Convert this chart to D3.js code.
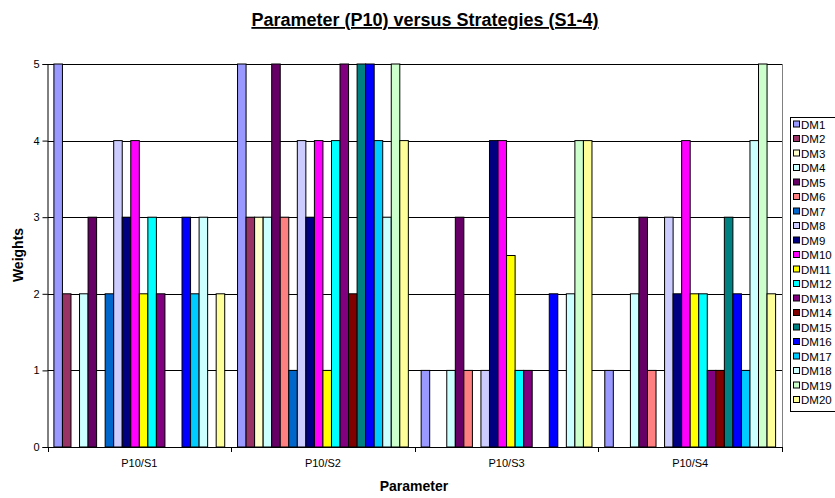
<!DOCTYPE html>
<html><head><meta charset="utf-8">
<script src="https://cdn.jsdelivr.net/npm/d3@7"></script>
<style>body{margin:0;background:#fff;}svg{display:block;font-family:Arial,"Liberation Sans",sans-serif;}</style>
</head><body>
<script>
const categories = ["P10/S1","P10/S2","P10/S3","P10/S4"];
const series = ["DM1","DM2","DM3","DM4","DM5","DM6","DM7","DM8","DM9","DM10","DM11","DM12","DM13","DM14","DM15","DM16","DM17","DM18","DM19","DM20"];
const colors = ["#9999FF","#993366","#FFFFCC","#CCFFFF","#660066","#FF8080","#0066CC","#CCCCFF","#000080","#FF00FF","#FFFF00","#00FFFF","#800080","#800000","#008080","#0000FF","#00CCFF","#CCFFFF","#CCFFCC","#FFFF99"];
// values per series, across the 4 categories
const dm1 = [5,5,1,1];
const dm2 = [2,3,0,0];
const dm3 = [0,3,0,0];
const dm4 = [2,3,1,2];
const dm5 = [3,5,3,3];
const dm6 = [0,3,1,1];
const dm7 = [2,1,0,0];
const dm8 = [4,4,1,3];
const dm9 = [3,3,4,2];
const dm10 = [4,4,4,4];
const dm11 = [2,1,2.5,2];
const dm12 = [3,4,1,2];
const dm13 = [2,5,1,1];
const dm14 = [0,2,0,1];
const dm15 = [0,5,0,3];
const dm16 = [3,5,2,2];
const dm17 = [2,4,0,1];
const dm18 = [3,3,2,4];
const dm19 = [0,5,4,5];
const dm20 = [2,4,4,2];
const values = [dm1,dm2,dm3,dm4,dm5,dm6,dm7,dm8,dm9,dm10,dm11,dm12,dm13,dm14,dm15,dm16,dm17,dm18,dm19,dm20];
const yTicks = [0,1,2,3,4,5];
const title = "Parameter (P10) versus Strategies (S1-4)";

const W = 835, H = 498;
const L = 47.5, R = 782, T = 64, B = 447;
const svg = d3.select("body").append("svg").attr("width", W).attr("height", H);

const x0 = d3.scaleBand().domain(categories).range([L, R]).padding(0);
const x1 = d3.scaleBand().domain(series).range([0, x0.bandwidth()]).paddingInner(0).paddingOuter(0.75);
const y = d3.scaleLinear().domain([0,5]).range([B, T]);

// gridlines
svg.append("g").selectAll("line").data(yTicks.filter(d=>d>0)).join("line")
  .attr("x1", L).attr("x2", R).attr("y1", d=>Math.round(y(d))+0.5).attr("y2", d=>Math.round(y(d))+0.5)
  .attr("stroke", "#000").attr("stroke-width", 1);
// plot border right
svg.append("line").attr("x1", R+0.5).attr("x2", R+0.5).attr("y1", T).attr("y2", B).attr("stroke", "#808080");

// bars
const groups = svg.append("g").selectAll("g").data(categories).join("g")
  .attr("transform", d => `translate(${x0(d)},0)`);
groups.selectAll("rect").data((c, ci) => series.map((s, si) => ({s, si, v: values[si][ci]})).filter(d => d.v > 0))
  .join("rect")
  .attr("x", d => x1(d.s))
  .attr("y", d => y(d.v))
  .attr("width", x1.bandwidth())
  .attr("height", d => y(0) - y(d.v))
  .attr("fill", d => colors[d.si])
  .attr("stroke", "#000").attr("stroke-width", 1);

// y axis
const yAxis = d3.axisLeft(y).tickValues(yTicks).tickSize(5).tickPadding(3).tickFormat(d3.format("d"));
const gy = svg.append("g").attr("transform", `translate(${L},0)`).call(yAxis);
gy.selectAll("text").attr("font-size", 11).attr("fill", "#000").style("font-family", "Arial, 'Liberation Sans', sans-serif");
gy.selectAll("line,path").attr("stroke", "#000");

// x axis
const xAxis = d3.axisBottom(x0).tickSize(0).tickPadding(12);
const gx = svg.append("g").attr("transform", `translate(0,${B})`).call(xAxis);
gx.selectAll("text").attr("font-size", 11).attr("fill", "#000").style("font-family", "Arial, 'Liberation Sans', sans-serif");
gx.select("path").attr("stroke", "#000");
// category boundary ticks
svg.append("g").selectAll("line").data(categories.concat(["end"])).join("line")
  .attr("x1", (d,i) => Math.round(L + i*x0.bandwidth())+0.5)
  .attr("x2", (d,i) => Math.round(L + i*x0.bandwidth())+0.5)
  .attr("y1", B).attr("y2", B+5).attr("stroke", "#000");

// title
svg.append("text").attr("x", 425).attr("y", 26).attr("text-anchor", "middle")
  .attr("font-size", 18).attr("font-weight", "bold").attr("text-decoration", "underline").text(title);
// axis titles
svg.append("text").attr("x", 414).attr("y", 491).attr("text-anchor", "middle")
  .attr("font-size", 14).attr("font-weight", "bold").text("Parameter");
svg.append("text").attr("transform", "translate(23,255) rotate(-90)").attr("text-anchor", "middle")
  .attr("font-size", 14).attr("font-weight", "bold").text("Weights");

// legend
const lg = svg.append("g");
lg.append("rect").attr("x", 790.5).attr("y", 117.5).attr("width", 60).attr("height", 294)
  .attr("fill", "#fff").attr("stroke", "#000");
const items = lg.selectAll("g").data(series).join("g")
  .attr("transform", (d,i) => `translate(793,${124.5 + i*14.5})`);
items.append("rect").attr("x", 0.5).attr("y", -3.5).attr("width", 6).attr("height", 6)
  .attr("fill", (d,i) => colors[i]).attr("stroke", "#000");
items.append("text").attr("x", 8).attr("y", 4).attr("font-size", 11.5).text(d => d);
</script>
</body></html>
